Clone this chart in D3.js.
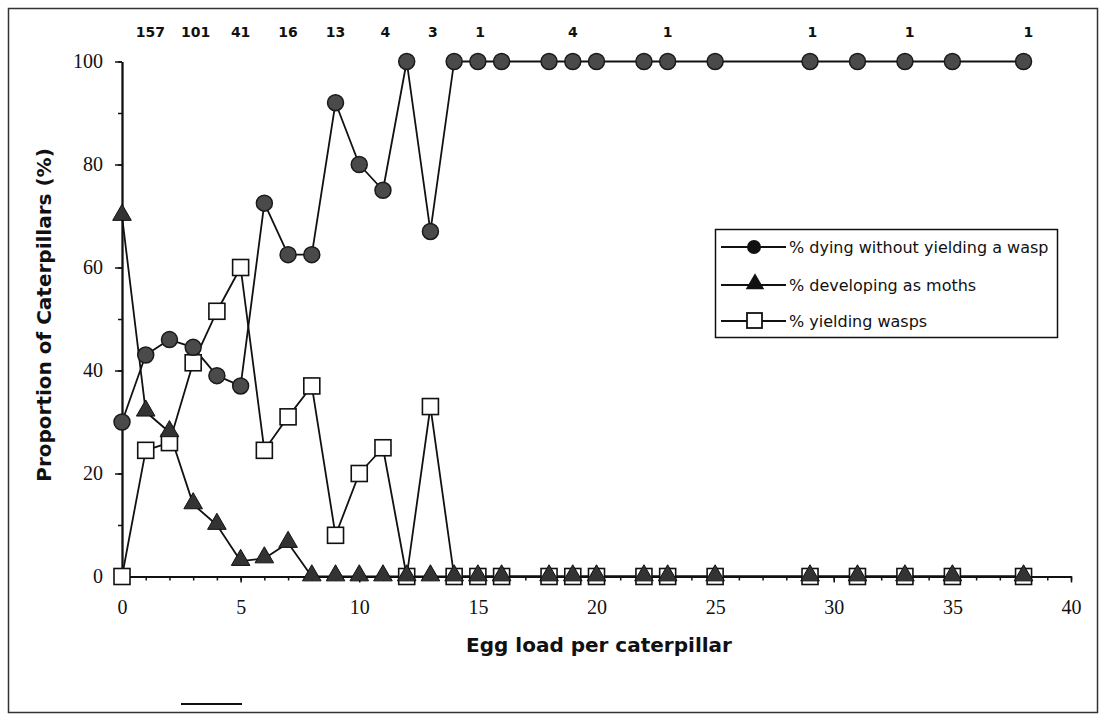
<!DOCTYPE html>
<html>
<head>
<meta charset="utf-8">
<script src="https://cdn.jsdelivr.net/npm/d3@7"></script>
<style>
  html, body { margin: 0; padding: 0; background: #fff; }
  svg { display: block; }
</style>
</head>
<body>
<svg id="chart" width="1111" height="718"></svg>
<script>
// Egg loads observed (x) and outcome percentages for each load
const eggLoad = [0, 1, 2, 3, 4, 5, 6, 7, 8, 9, 10, 11, 12, 13, 14, 15, 16, 18, 19, 20, 22, 23, 25, 29, 31, 33, 35, 38];
const dying   = [30, 43, 46, 44.5, 39, 37, 72.5, 62.5, 62.5, 92, 80, 75, 100, 67, 100, 100, 100, 100, 100, 100, 100, 100, 100, 100, 100, 100, 100, 100];
const moths   = [70, 32, 28, 14, 10, 3, 3.5, 6.5, 0, 0, 0, 0, 0, 0, 0, 0, 0, 0, 0, 0, 0, 0, 0, 0, 0, 0, 0, 0];
const wasps   = [0, 24.5, 26, 41.5, 51.5, 60, 24.5, 31, 37, 8, 20, 25, 0, 33, 0, 0, 0, 0, 0, 0, 0, 0, 0, 0, 0, 0, 0, 0];

// Sample sizes printed along the top, with the egg load each sits over
const sampleSizes = ["157", "101", "41", "16", "13", "4", "3", "1", "4", "1", "1", "1", "1"];
const sampleAt    = [1.2, 3.1, 5, 7, 9, 11.1, 13.1, 15.1, 19, 23, 29.1, 33.2, 38.2];

// Axis ticks
const xMajorTicks = [0, 5, 10, 15, 20, 25, 30, 35, 40];
const xMinorTicks = d3.range(0, 41, 1);
const yMajorTicks = [0, 20, 40, 60, 80, 100];
const yMinorTicks = d3.range(0, 101, 10);

const seriesNames = ["% dying without yielding a wasp", "% developing as moths", "% yielding wasps"];

const svg = d3.select("#chart");
const x = d3.scaleLinear().domain([0, 40]).range([122, 1071]);
const y = d3.scaleLinear().domain([0, 100]).range([576.5, 61.5]);

const ink = "#111";
const sans = "'DejaVu Sans', Verdana, sans-serif";
const serif = "'Liberation Serif', 'Times New Roman', serif";

// Outer frame
svg.append("rect")
  .attr("x", 8.5).attr("y", 8.5).attr("width", 1089).attr("height", 704)
  .attr("fill", "none").attr("stroke", "#333").attr("stroke-width", 1.5);
svg.append("line")
  .attr("x1", 181).attr("x2", 242).attr("y1", 704).attr("y2", 704)
  .attr("stroke", ink).attr("stroke-width", 2);

// X axis: minor ticks every egg, labelled major ticks every 5
const xMinor = svg.append("g").attr("transform", `translate(0,${y(0)})`)
  .call(d3.axisBottom(x).tickValues(xMinorTicks).tickSize(4).tickSizeOuter(0).tickFormat(""));
const xMajor = svg.append("g").attr("transform", `translate(0,${y(0)})`)
  .call(d3.axisBottom(x).tickValues(xMajorTicks).tickSize(6).tickSizeOuter(0).tickPadding(17).tickFormat(d3.format("d")));
[xMinor, xMajor].forEach(g => {
  g.selectAll("path.domain").attr("stroke", ink).attr("stroke-width", 1.8);
  g.selectAll(".tick line").attr("stroke", ink).attr("stroke-width", 1.5);
});
xMajor.selectAll(".tick text").attr("font-family", serif).attr("font-size", 20).attr("fill", ink);

// Y axis
const yMinor = svg.append("g").attr("transform", `translate(${x(0)},0)`)
  .call(d3.axisLeft(y).tickValues(yMinorTicks).tickSize(4).tickSizeOuter(0).tickFormat(""));
const yMajor = svg.append("g").attr("transform", `translate(${x(0)},0)`)
  .call(d3.axisLeft(y).tickValues(yMajorTicks).tickSize(7).tickSizeOuter(0).tickPadding(12).tickFormat(d3.format("d")));
[yMinor, yMajor].forEach(g => {
  g.selectAll("path.domain").attr("stroke", ink).attr("stroke-width", 1.8);
  g.selectAll(".tick line").attr("stroke", ink).attr("stroke-width", 1.5);
});
yMajor.selectAll(".tick text").attr("font-family", serif).attr("font-size", 20).attr("fill", ink);

// Axis titles
svg.append("text")
  .attr("transform", `translate(51,${(y(0) + y(100)) / 2 - 4}) rotate(-90)`)
  .attr("text-anchor", "middle")
  .attr("font-family", sans).attr("font-weight", "bold").attr("font-size", 20).attr("fill", ink)
  .text("Proportion of Caterpillars (%)");
svg.append("text")
  .attr("x", 599).attr("y", 652)
  .attr("text-anchor", "middle")
  .attr("font-family", sans).attr("font-weight", "bold").attr("font-size", 20).attr("fill", ink)
  .text("Egg load per caterpillar");

// Sample sizes
svg.append("g").selectAll("text")
  .data(sampleSizes)
  .join("text")
  .attr("x", (d, i) => x(sampleAt[i]))
  .attr("y", 37)
  .attr("text-anchor", "middle")
  .attr("font-family", sans).attr("font-weight", "bold").attr("font-size", 14).attr("fill", ink)
  .text(d => d);

// Series lines
const rows = eggLoad.map((e, i) => ({ e, dying: dying[i], moths: moths[i], wasps: wasps[i] }));
const lineFor = key => d3.line().x(d => x(d.e)).y(d => y(d[key]));
["dying", "moths", "wasps"].forEach(key => {
  svg.append("path")
    .datum(rows)
    .attr("d", lineFor(key))
    .attr("fill", "none").attr("stroke", ink).attr("stroke-width", 1.8).attr("stroke-linejoin", "round");
});

// Markers
const triangle = d3.symbol().type(d3.symbolTriangle).size(150);
svg.append("g").selectAll("rect")
  .data(rows).join("rect")
  .attr("x", d => x(d.e) - 8).attr("y", d => y(d.wasps) - 8)
  .attr("width", 16).attr("height", 16)
  .attr("fill", "#fff").attr("stroke", ink).attr("stroke-width", 1.6);
svg.append("g").selectAll("path")
  .data(rows).join("path")
  .attr("transform", d => `translate(${x(d.e)},${y(d.moths) - 1})`)
  .attr("d", triangle)
  .attr("fill", "#333").attr("stroke", ink).attr("stroke-width", 1);
svg.append("g").selectAll("circle")
  .data(rows).join("circle")
  .attr("cx", d => x(d.e)).attr("cy", d => y(d.dying))
  .attr("r", 8)
  .attr("fill", "#4a4a4a").attr("stroke", "#1a1a1a").attr("stroke-width", 1.5);

// Legend
const legend = svg.append("g");
legend.append("rect")
  .attr("x", 715.5).attr("y", 229.5).attr("width", 342).attr("height", 108)
  .attr("fill", "#fff").attr("stroke", ink).attr("stroke-width", 1.5);
const legendRows = [247, 285, 321];
const legendMarkers = [
  g => g.append("circle").attr("cx", 754).attr("cy", 0).attr("r", 7).attr("fill", ink),
  g => g.append("path").attr("transform", "translate(755,-1)").attr("d", triangle).attr("fill", ink),
  g => g.append("rect").attr("x", 747).attr("y", -8).attr("width", 15).attr("height", 15)
        .attr("fill", "#fff").attr("stroke", ink).attr("stroke-width", 1.8)
];
seriesNames.forEach((name, i) => {
  const row = legend.append("g").attr("transform", `translate(0,${legendRows[i]})`);
  row.append("line").attr("x1", 721).attr("x2", 786).attr("y1", 0).attr("y2", 0)
    .attr("stroke", ink).attr("stroke-width", 1.8);
  legendMarkers[i](row);
  row.append("text")
    .attr("x", 789).attr("y", 6)
    .attr("font-family", sans).attr("font-size", 16).attr("fill", ink)
    .text(name);
});
</script>
</body>
</html>
